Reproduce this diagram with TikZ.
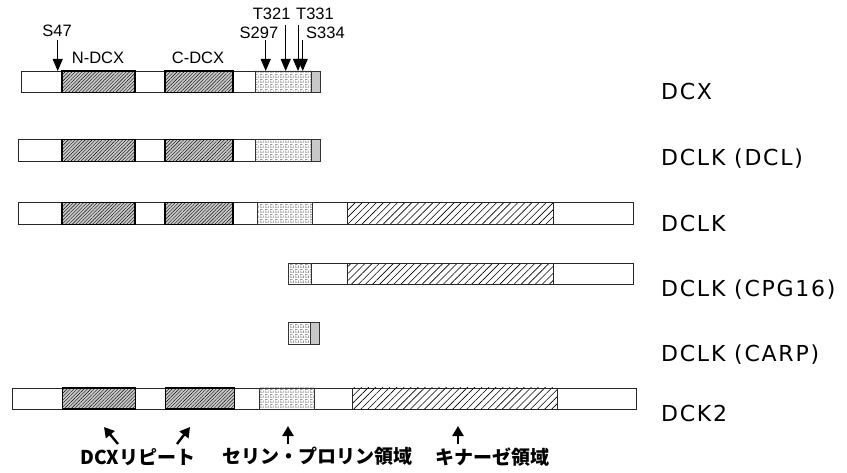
\documentclass[tikz,border=0pt]{standalone}
\usepackage{fontspec}
\setmainfont{Liberation Sans}
\newfontfamily\labfont[LetterSpace=8]{DejaVu Sans}
\newfontfamily\topfont{Liberation Sans}
\newfontfamily\cjkfont{Noto Sans CJK JP}
\usetikzlibrary{patterns.meta,arrows.meta}
\definecolor{repgray}{HTML}{CACACA}
\definecolor{endgray}{HTML}{C8C8C8}
\pgfdeclarepattern{
  name=spdots,
  type=uncolored,
  bottom left={\pgfpoint{0pt}{0pt}},
  top right={\pgfpoint{5pt}{5pt}},
  tile size={\pgfpoint{5pt}{5pt}},
  code={
    \pgfpathrectangle{\pgfpoint{0.4pt}{0.4pt}}{\pgfpoint{0.8pt}{0.8pt}}
    \pgfpathrectangle{\pgfpoint{2.0pt}{0.4pt}}{\pgfpoint{0.8pt}{0.8pt}}
    \pgfpathrectangle{\pgfpoint{3.6pt}{0.4pt}}{\pgfpoint{0.8pt}{0.8pt}}
    \pgfpathrectangle{\pgfpoint{0.4pt}{2.0pt}}{\pgfpoint{0.8pt}{0.8pt}}
    \pgfpathrectangle{\pgfpoint{3.6pt}{2.0pt}}{\pgfpoint{0.8pt}{0.8pt}}
    \pgfpathrectangle{\pgfpoint{0.4pt}{3.6pt}}{\pgfpoint{0.8pt}{0.8pt}}
    \pgfpathrectangle{\pgfpoint{2.0pt}{3.6pt}}{\pgfpoint{0.8pt}{0.8pt}}
    \pgfusepath{fill}
  }
}
\tikzset{
  outerbar/.style={draw=black!85, fill=white, line width=0.8pt},
  repbox/.style={fill=repgray, draw=black, line width=1.2pt,
    postaction={pattern={Lines[angle=45,distance=2.4pt,line width=0.4pt]}}},
  spbox/.style={draw=black!80, line width=0.7pt, pattern=spdots, pattern color=black!60},
  kinbox/.style={draw=black!85, line width=0.8pt,
    pattern={Lines[angle=45,distance=5pt,line width=0.6pt]}},
  endbox/.style={fill=endgray, draw=black!80, line width=0.7pt},
  toplab/.style={inner sep=0pt, font=\topfont\fontsize{16.5}{18}\selectfont},
  namelab/.style={inner sep=0pt, anchor=base west, font=\labfont\fontsize{22}{26}\selectfont},
  cjklab/.style={inner sep=0pt, anchor=west, font=\cjkfont\bfseries\fontsize{19}{22}\selectfont},
  toparrow/.style={line width=0.9pt, -{Triangle[length=12pt,width=10pt]}},
  botarrow/.style={line width=2.4pt, -{Triangle[length=10pt,width=11pt]}}
}
\begin{document}
\begin{tikzpicture}[x=1pt,y=-1pt]
\useasboundingbox (0,0) rectangle (847,473);
% Row 1: DCX
\draw[outerbar] (21,71) rectangle (320,92.5);
\draw[repbox] (62,71) rectangle (135,92.5);
\draw[repbox] (165,71) rectangle (233,92.5);
\draw[spbox] (255,71) rectangle (311,92.5);
\draw[endbox] (311,71) rectangle (320,92.5);
% Row 2: DCLK (DCL)
\draw[outerbar] (18,139.5) rectangle (320,161.5);
\draw[repbox] (62,139.5) rectangle (135,161.5);
\draw[repbox] (165,139.5) rectangle (233,161.5);
\draw[spbox] (255,139.5) rectangle (311,161.5);
\draw[endbox] (311,139.5) rectangle (320,161.5);
% Row 3: DCLK
\draw[outerbar] (18,202.5) rectangle (633,224.5);
\draw[repbox] (62,202.5) rectangle (135,224.5);
\draw[repbox] (165,202.5) rectangle (233,224.5);
\draw[spbox] (257,202.5) rectangle (312.5,224.5);
\draw[kinbox] (347,202.5) rectangle (553,224.5);
% Row 4: DCLK (CPG16)
\draw[outerbar] (288,263.5) rectangle (633,284.5);
\draw[spbox] (288,263.5) rectangle (311.5,284.5);
\draw[kinbox] (347,263.5) rectangle (553,284.5);
% Row 5: DCLK (CARP)
\draw[outerbar] (288,322.5) rectangle (319.3,344.5);
\draw[spbox] (288,322.5) rectangle (310.7,344.5);
\draw[endbox] (310.7,322.5) rectangle (319.3,344.5);
% Row 6: DCK2
\draw[outerbar] (12.7,388) rectangle (636.7,409);
\draw[repbox] (62.3,388) rectangle (135.3,409);
\draw[repbox] (165.3,388) rectangle (234.3,409);
\draw[spbox] (259.3,388) rectangle (314.3,409);
\draw[kinbox] (352,388) rectangle (557.7,409);

% top labels
\node[toplab, anchor=base] (ls47) at (57,36.7) {S47};
\node[toplab, anchor=base] (lndcx) at (98,64) {N-DCX};
\node[toplab, anchor=base] (lcdcx) at (198,64) {C-DCX};
\node[toplab, anchor=base] (ls297) at (259,38.3) {S297};
\node[toplab, anchor=base] (lt321) at (271.7,19.3) {T321};
\node[toplab, anchor=base] (lt331) at (315,19.3) {T331};
\node[toplab, anchor=base west] (ls334) at (306,38.3) {S334};

% phosphorylation-site arrows
\coordinate (a1t) at (57.7,40);  \coordinate (a1h) at (57.7,71);
\coordinate (a2t) at (265.7,40); \coordinate (a2h) at (265.7,71);
\coordinate (a3t) at (285.7,25); \coordinate (a3h) at (285.7,71);
\coordinate (a4t) at (298,25);   \coordinate (a4h) at (298,71);
\coordinate (a5t) at (302.7,40); \coordinate (a5h) at (302.7,71);
\draw[toparrow] (a1t) -- (a1h);
\draw[toparrow] (a2t) -- (a2h);
\draw[toparrow] (a3t) -- (a3h);
\draw[toparrow] (a4t) -- (a4h);
\draw[toparrow] (a5t) -- (a5h);

% names
\node[namelab] (ndcx) at (661,100) {DCX};
\node[namelab] (ndcl) at (661,166) {DCLK (DCL)};
\node[namelab] (ndclk) at (661,231.7) {DCLK};
\node[namelab] (ncpg) at (661,296.7) {DCLK (CPG16)};
\node[namelab] (ncarp) at (661,361.7) {DCLK (CARP)};
\node[namelab] (ndck) at (661,421.7) {DCK2};

% bottom legend arrows
\coordinate (b1t) at (118,444); \coordinate (b1h) at (104,427);
\coordinate (b2t) at (177,444); \coordinate (b2h) at (190,427);
\coordinate (b3t) at (288,444); \coordinate (b3h) at (288,426);
\coordinate (b4t) at (458,444); \coordinate (b4h) at (458,426);
\draw[botarrow] (b1t) -- (b1h);
\draw[botarrow] (b2t) -- (b2h);
\draw[botarrow] (b3t) -- (b3h);
\draw[botarrow] (b4t) -- (b4h);

% bottom legend text
\node[cjklab] (c1) at (80,456.7) {DCXリピート};
\node[cjklab] (c2) at (222,456.7) {セリン・プロリン領域};
\node[cjklab] (c3) at (435,456.7) {キナーゼ領域};
\end{tikzpicture}
\end{document}
